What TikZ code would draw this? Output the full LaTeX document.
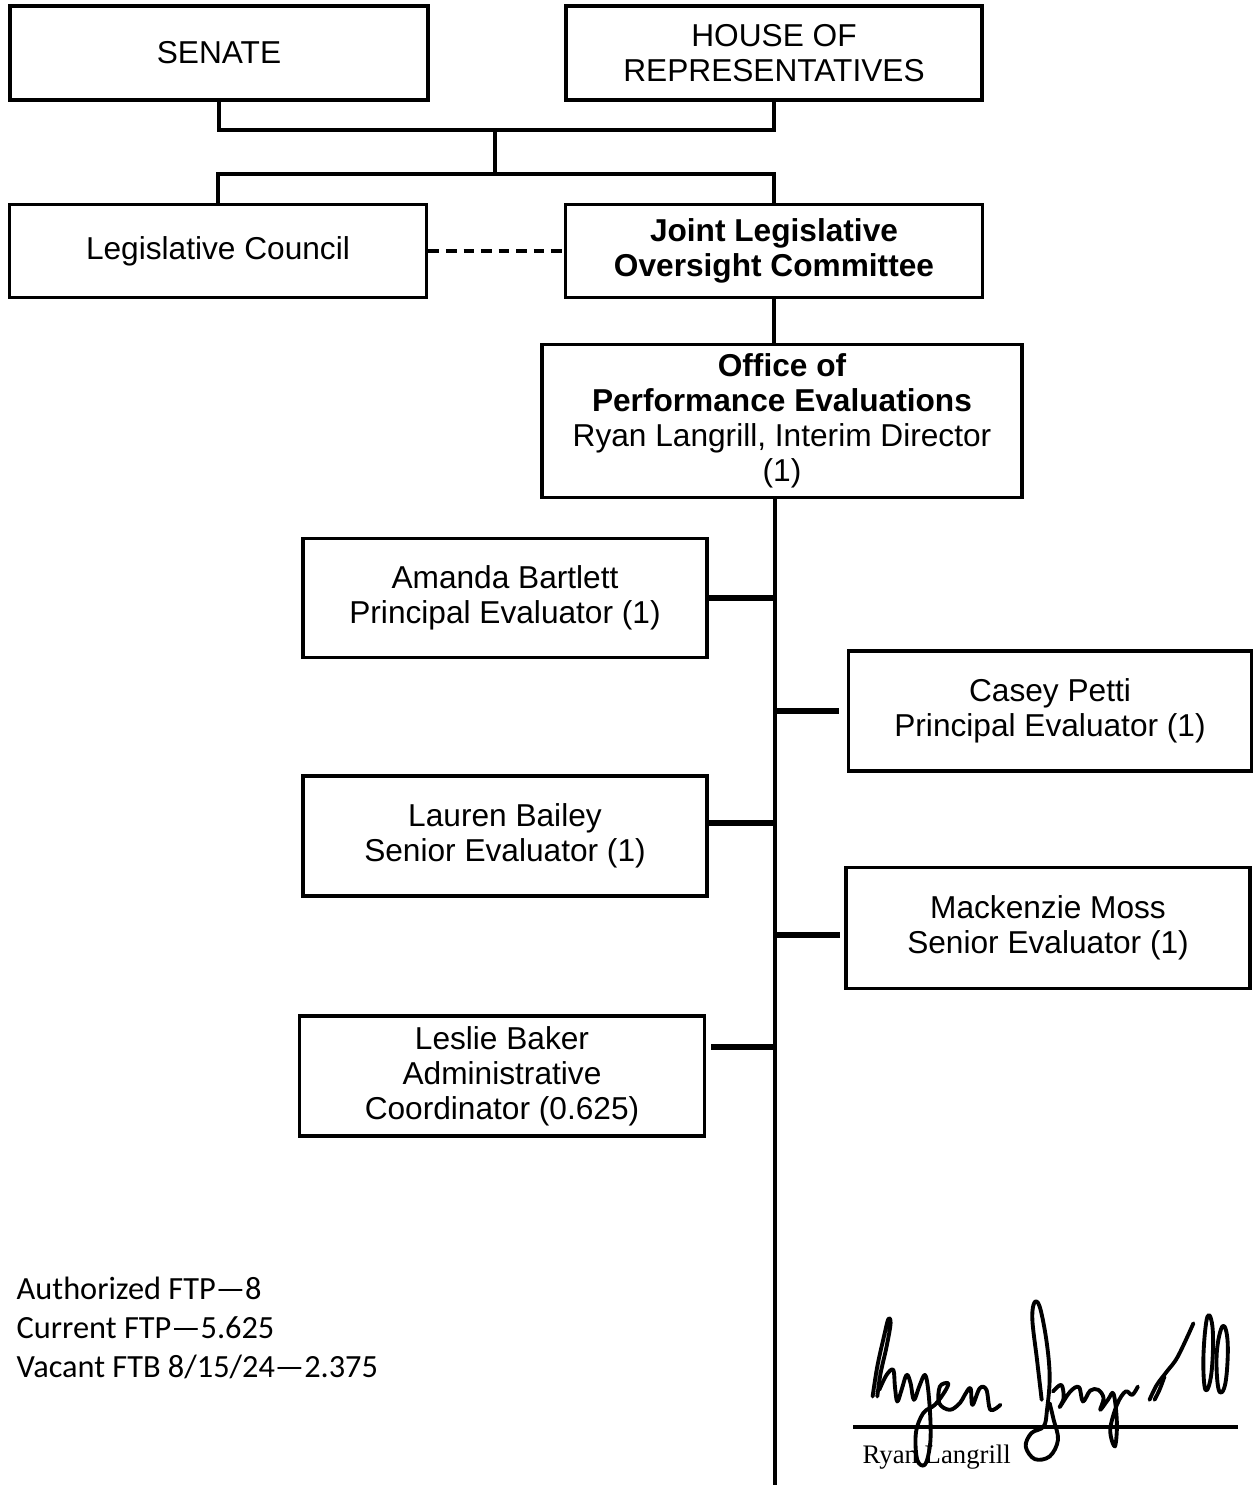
\documentclass[tikz,border=0pt]{standalone}
\usepackage{fontspec}
\setmainfont{Liberation Sans}
\newfontfamily\calfont{Carlito}
\newfontfamily\timesfont{Liberation Serif}
\usetikzlibrary{positioning,calc}

\begin{document}
\begin{tikzpicture}[x=0.01cm, y=-0.01cm,
    box/.style={draw, line width=1pt, align=center, inner sep=0pt,
        font=\fontsize{9}{10}\selectfont},
    link/.style={line width=0.9pt},
    branch/.style={line width=1.6pt},
    sig/.style={line width=1.1pt, line cap=round, line join=round}]
    \useasboundingbox (0,0) rectangle (1254,1485);

    % Legislature
    \node[box, minimum width=4.18cm, minimum height=0.94cm] (senate) at (219,53) {SENATE};
    \node[box, minimum width=4.16cm, minimum height=0.94cm] (house) at (774,53) {HOUSE OF\\REPRESENTATIVES};

    % Council and committee
    \node[box, minimum width=4.17cm, minimum height=0.93cm] (legco) at (218,251) {Legislative Council};
    \node[box, minimum width=4.17cm, minimum height=0.93cm] (jloc) at (774,251) {\textbf{Joint Legislative}\\\textbf{Oversight Committee}};

    \coordinate (join) at (495,130);
    \coordinate (split) at (495,174);
    \draw[link] (senate.south) |- (join) -| (house.south);
    \draw[link] (join) -- (split);
    \draw[link] (legco.north) |- (split) -| (jloc.north);
    \draw[link, dash pattern=on 3pt off 2pt] (legco.east) -- (jloc.west);

    % Office
    \node[box, minimum width=4.80cm, minimum height=1.53cm] (ope) at (782,421) {\textbf{Office of}\\\textbf{Performance Evaluations}\\Ryan Langrill, Interim Director\\(1)};
    \draw[link] (jloc.south) -- (jloc.south |- ope.north);

    % Trunk
    \coordinate (trunkend) at (775,1485);
    \draw[line width=1.1pt] (ope.south -| trunkend) -- (trunkend);

    % Staff
    \node[box, minimum width=4.04cm, minimum height=1.19cm] (amanda) at (505,598) {Amanda Bartlett\\Principal Evaluator (1)};
    \node[box, minimum width=4.03cm, minimum height=1.20cm] (casey) at (1050,711) {Casey Petti\\Principal Evaluator (1)};
    \node[box, minimum width=4.04cm, minimum height=1.20cm] (lauren) at (505,836) {Lauren Bailey\\Senior Evaluator (1)};
    \node[box, minimum width=4.04cm, minimum height=1.21cm] (mack) at (1048,928) {Mackenzie Moss\\Senior Evaluator (1)};
    \node[box, minimum width=4.05cm, minimum height=1.20cm] (leslie) at (502,1076) {Leslie Baker\\Administrative\\Coordinator (0.625)};

    \draw[branch] (amanda.east) -- (amanda.east -| trunkend);
    \draw[branch, shorten <=2.2pt] (casey.west) -- (casey.west -| trunkend);
    \draw[branch] ($(lauren.east)+(0,-13)$) -- ($(lauren.east -| trunkend)+(0,-13)$);
    \draw[branch, shorten <=1.2pt] ($(mack.west)+(0,7)$) -- ($(mack.west -| trunkend)+(0,7)$);
    \draw[branch, shorten <=1.4pt] ($(leslie.east)+(0,-29)$) -- ($(leslie.east -| trunkend)+(0,-29)$);

    % FTP totals
    \node[anchor=north west, align=left, inner sep=0pt, font=\calfont\fontsize{9.2}{11.1}\selectfont] (ftp) at (16,1276)
        {Authorized FTP—8\\Current FTP—5.625\\Vacant FTB 8/15/24—2.375};

    % Signature
    \coordinate (sigleft) at (853,1427);
    \coordinate (sigright) at (1238,1427);
    \draw[line width=1.4pt] (sigleft) -- (sigright);
    \node[anchor=base west, inner sep=0pt, font=\timesfont\fontsize{7.6}{9}\selectfont] (signame) at (862,1463) {Ryan Langrill};
    \begin{scope}[shift={(840,1290)}, x=0.003333cm, y=-0.003333cm]
        \draw[sig] plot[smooth, tension=0.6] coordinates {(98,320) (112,230) (132,140) (145,88) (152,100) (140,170) (122,250) (112,320)};
        \draw[sig] plot[smooth, tension=0.6] coordinates {(118,300) (140,255) (160,240) (165,290) (172,335) (185,300) (200,255) (212,280) (222,330) (238,290) (255,255) (265,300) (272,400) (270,470) (255,525) (232,510) (228,430) (250,370) (285,345) (315,305) (325,280) (300,290) (298,340) (330,360) (360,340) (375,315) (392,295) (398,345) (420,295) (440,300) (452,360) (482,345)};
        \draw[sig] plot[smooth, tension=0.6] coordinates {(606,330) (592,210) (578,90) (584,38) (600,50) (620,150) (630,260) (622,360) (612,410) (575,430) (558,470) (585,508) (630,500) (655,450) (642,390) (630,340)};
        \draw[sig] plot[smooth, tension=0.6] coordinates {(640,305) (665,285) (672,325) (660,352) (692,305) (718,292) (730,335) (752,302) (776,300) (792,325) (782,360) (805,330) (822,312) (832,400) (826,470) (812,420) (832,345) (858,305) (878,315) (895,290)};
        \draw[sig] plot[smooth, tension=0.6] coordinates {(930,330) (952,285) (982,245) (1015,200) (1062,100)};
        \draw[sig] plot[smooth, tension=0.6] coordinates {(945,330) (960,300) (975,260)};
        \draw[sig] plot[smooth cycle, tension=0.7] coordinates {(1098,300) (1092,200) (1104,80) (1120,120) (1116,250)};
        \draw[sig] plot[smooth cycle, tension=0.7] coordinates {(1138,300) (1132,190) (1150,108) (1165,160) (1158,280)};
    \end{scope}
\end{tikzpicture}
\end{document}
